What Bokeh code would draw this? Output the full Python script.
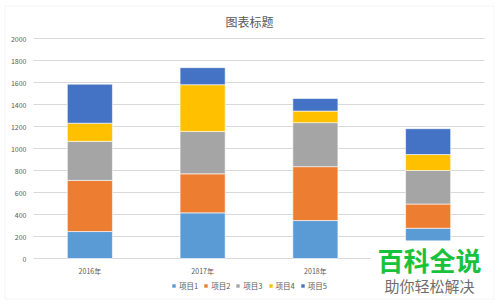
import numpy as np
from bokeh.plotting import figure
from bokeh.models import (Range1d, Legend, LegendItem, Label, BoxAnnotation,
                          ColumnDataSource)
from bokeh.core.properties import value
from bokeh.embed import file_html
from bokeh.resources import INLINE

years = ["2016年", "2017年", "2018年", "2019年"]
series_names = ["项目1", "项目2", "项目3", "项目4", "项目5"]
s1 = [245, 415, 345, 275]
s2 = [465, 355, 490, 220]
s3 = [355, 385, 400, 305]
s4 = [165, 425, 105, 145]
s5 = [355, 155, 115, 235]
colors = ["#5B9BD5", "#ED7D31", "#A5A5A5", "#FFC000", "#4472C4"]
y_ticks = list(range(0, 2001, 200))
title_text = "图表标题"
wm_main = "百科全说"
wm_sub = "助你轻松解决"

CJK = "Noto Sans CJK SC"
TXT = "#595959"
W, H = 500, 305
# plot-area placement inside the 500x305 canvas (pixels)
PX_L, PX_R, PX_T, PX_B = 33, 484, 38, 258
n = len(years)
ymax = y_ticks[-1]
ux = (PX_R - PX_L) / n            # pixels per category
uy = (PX_B - PX_T) / ymax         # pixels per unit value

p = figure(width=W, height=H, output_backend="svg", toolbar_location=None,
           x_axis_location=None, y_axis_location=None,
           x_range=Range1d(-PX_L / ux, (W - PX_L) / ux),
           y_range=Range1d(-(H - PX_B) / uy, PX_B / uy),
           min_border=0)
p.outline_line_color = None
p.background_fill_color = "white"
p.border_fill_color = "white"
p.xgrid.visible = False
p.ygrid.visible = False

xpos = np.arange(n) + 0.5

# horizontal grid lines
p.segment(x0=0, x1=n, y0=y_ticks, y1=y_ticks, line_color="#d9d9d9", line_width=1)

src = ColumnDataSource(dict(x=xpos, s1=s1, s2=s2, s3=s3, s4=s4, s5=s5))
keys = ["s1", "s2", "s3", "s4", "s5"]
rs = p.vbar_stack(keys, x="x", width=0.4, color=colors, source=src,
                  line_color="white", line_width=0.6)

# tick labels
p.text(x=0, y=y_ticks, text=[str(t) for t in y_ticks], x_offset=-7,
       text_align="right", text_baseline="middle", text_font=value(CJK),
       text_font_size="7px", text_color=TXT)
p.text(x=xpos, y=0, text=years, y_offset=12, text_align="center",
       text_baseline="middle", text_font=value(CJK), text_font_size="7px",
       text_color=TXT)

# title
p.add_layout(Label(x=249, y=H - 21, x_units="screen", y_units="screen",
                   text=title_text, text_align="center", text_baseline="middle",
                   text_font=CJK, text_font_size="12px", text_color=TXT))

# legend
items = [LegendItem(label=nm, renderers=[r]) for nm, r in zip(series_names, rs)]
legend = Legend(items=items, orientation="horizontal", location=(171, 14),
                glyph_width=5, glyph_height=5, label_text_font=CJK,
                label_text_font_size="7.5px", label_text_color=TXT,
                label_standoff=3, spacing=5, padding=0, margin=0,
                label_width=0, label_height=10,
                border_line_color=None, background_fill_alpha=0)
p.add_layout(legend, "center")

# watermark patch and texts
p.add_layout(BoxAnnotation(left=370, right=492, bottom=6, top=65,
                           left_units="screen", right_units="screen",
                           bottom_units="screen", top_units="screen",
                           fill_color="white", fill_alpha=1, line_color=None))
# outer chart border
p.add_layout(BoxAnnotation(left=4.5, right=493.5, bottom=6.5, top=299.5,
                           left_units="screen", right_units="screen",
                           bottom_units="screen", top_units="screen",
                           fill_alpha=0, line_color="#d9d9d9", line_width=1))
p.add_layout(Label(x=429, y=H - 259, x_units="screen", y_units="screen",
                   text=wm_main, text_align="center", text_baseline="middle",
                   text_font=CJK, text_font_style="bold", text_font_size="26px",
                   text_color="#19c23c"))
p.add_layout(Label(x=429, y=H - 285, x_units="screen", y_units="screen",
                   text=wm_sub, text_align="center", text_baseline="middle",
                   text_font=CJK, text_font_size="15px", text_color="#6e6e6e"))

open("out.html", "w").write(file_html(p, INLINE))
